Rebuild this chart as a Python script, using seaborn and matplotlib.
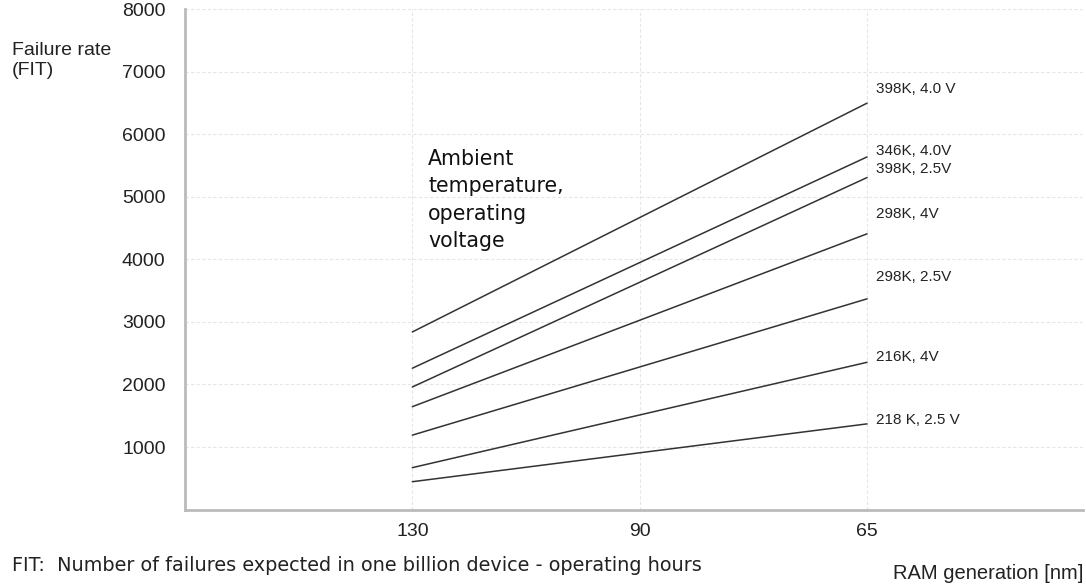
import pandas as pd
import numpy as np
import seaborn as sns
import matplotlib.pyplot as plt

# RAM generations (nm) and their slot on the x axis
generations = ['130', '90', '65']
gen_pos = [0, 1, 2]

# failure rate (FIT) at 130 nm and at 65 nm for each condition
series_names = ['398K, 4.0 V', '346K, 4.0V', '398K, 2.5V', '298K, 4V',
                '298K, 2.5V', '216K, 4V', '218 K, 2.5 V']
fit_130 = [2840, 2260, 1960, 1645, 1190, 670, 445]
fit_65 = [6500, 5640, 5310, 4410, 3370, 2355, 1370]
label_y = [6730, 5740, 5450, 4730, 3720, 2440, 1430]

rows = []
for name, a, b in zip(series_names, fit_130, fit_65):
    rows.append({'series': name, 'pos': gen_pos[0], 'fit': a})
    rows.append({'series': name, 'pos': gen_pos[2], 'fit': b})
df = pd.DataFrame(rows)

sns.set_theme(style="white")
plt.rcParams['font.family'] = ['DejaVu Sans']

fig = plt.figure(figsize=(10.86, 5.85), dpi=100, facecolor='white')
ax = fig.add_axes([0.1703, 0.129, 0.827, 0.855])

sns.lineplot(data=df, x='pos', y='fit', units='series', estimator=None,
             color='#333333', linewidth=1.1, ax=ax)

ax.set_xlim(-1.0, 2.95)
ax.set_ylim(0, 8000)
ax.set_xticks(gen_pos)
ax.set_xticklabels(generations)
ax.set_yticks(range(1000, 8001, 1000))
ax.tick_params(axis='both', length=0, labelsize=14, colors='#222222')
ax.tick_params(axis='x', pad=10)
ax.tick_params(axis='y', pad=14)
for lab in ax.get_xticklabels() + ax.get_yticklabels():
    lab.set_family('Liberation Sans')

ax.grid(True, color='#e6e6e6', linestyle=(0, (3, 2)), linewidth=0.8)
for s in ['top', 'right']:
    ax.spines[s].set_visible(False)
for s in ['left', 'bottom']:
    ax.spines[s].set_color('#bbbbbb')
    ax.spines[s].set_linewidth(2)
ax.set_xlabel('')
ax.set_ylabel('')

for name, ly in zip(series_names, label_y):
    ax.text(2.04, ly, name, fontsize=11, family='Liberation Sans',
            color='#222222', va='center', ha='left')

ax.text(0.07, 4950, 'Ambient\ntemperature,\noperating\nvoltage', fontsize=14.8,
        color='#111111', va='center', ha='left', linespacing=1.45)

fig.text(0.011, 0.8966, 'Failure rate\n(FIT)', fontsize=14, family='Liberation Sans',
         color='#222222', va='center', ha='left', linespacing=1.25)
fig.text(0.998, 0.02, 'RAM generation [nm]', fontsize=14.5, family='Liberation Sans',
         color='#222222', va='center', ha='right')
fig.text(0.011, 0.034, 'FIT:  Number of failures expected in one billion device - operating hours',
         fontsize=13.9, color='#222222', va='center', ha='left')

plt.savefig('out.png', dpi=100, facecolor='white')
